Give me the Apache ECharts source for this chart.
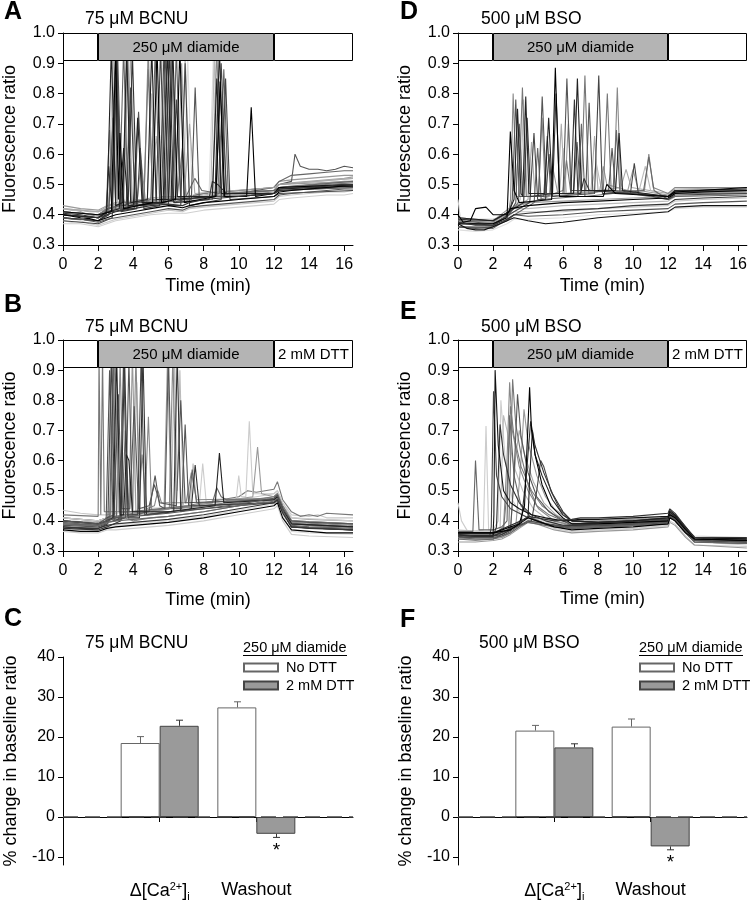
<!DOCTYPE html>
<html><head><meta charset="utf-8">
<script src="https://cdn.jsdelivr.net/npm/echarts@6/dist/echarts.min.js"></script>
<style>html,body{margin:0;padding:0;background:#fff}#c{width:750px;height:902px}</style>
</head><body><div id="c"></div>
<script>
const FONT = 'Liberation Sans, Arial, sans-serif';
// ---------- axes / structure values ----------
const timeTicks = [0,2,4,6,8,10,12,14,16];
const pctTicks = [-10,0,10,20,30,40];
const timeEnd = 16.5, diamideStart = 2, diamideEnd = 12;
const boxTop = 1.0, boxBottom = 0.91;
const boxLabelsNoDTT = ['', '250 μM diamide', ''];
const boxLabelsDTT = ['', '250 μM diamide', '2 mM DTT'];

// ---------- Panel A: 75 uM BCNU, diamide ----------
const A_b1 = [[0,0.40],[0.5,0.395],[1,0.39],[1.5,0.387],[2,0.38],[2.5,0.39],[3,0.40],[3.5,0.405],[4,0.41],[5,0.42],[6,0.43],[6.8,0.423],[7.2,0.43],[8,0.44],[9,0.445],[10,0.45],[11,0.455],[12,0.46],[12.3,0.475],[13,0.48],[14,0.485],[15,0.49],[16,0.495],[16.5,0.495]];
const A_b2 = [[0,0.41],[0.5,0.405],[1,0.41],[1.5,0.40],[2,0.395],[2.5,0.41],[3,0.42],[4,0.43],[5,0.44],[6,0.445],[6.8,0.44],[7.2,0.45],[8,0.455],[9,0.46],[10,0.465],[11,0.47],[12,0.475],[12.3,0.49],[13,0.495],[14,0.50],[15,0.505],[16,0.51],[16.5,0.51]];
const A_b3 = [[0,0.38],[0.5,0.375],[1,0.38],[1.5,0.37],[2,0.365],[2.5,0.375],[3,0.385],[4,0.395],[5,0.405],[6,0.415],[6.8,0.41],[7.2,0.42],[8,0.425],[9,0.43],[10,0.435],[11,0.44],[12,0.445],[12.3,0.46],[13,0.465],[14,0.47],[15,0.475],[16,0.475],[16.5,0.48]];
const A_b4 = [[0,0.39],[0.5,0.385],[1,0.385],[1.5,0.38],[2,0.375],[2.5,0.385],[3,0.39],[4,0.40],[5,0.41],[6,0.42],[6.8,0.415],[7.2,0.425],[8,0.43],[9,0.435],[10,0.44],[11,0.445],[12,0.45],[12.3,0.465],[13,0.47],[14,0.475],[15,0.48],[16,0.485],[16.5,0.485]];
const A_b5 = [[0,0.42],[0.5,0.415],[1,0.415],[1.5,0.41],[2,0.41],[2.5,0.42],[3,0.43],[4,0.44],[5,0.45],[6,0.455],[6.8,0.45],[7.2,0.46],[8,0.465],[9,0.47],[10,0.475],[11,0.48],[12,0.48],[12.3,0.50],[13,0.505],[14,0.51],[15,0.515],[16,0.52],[16.5,0.525]];
const A_b6 = [[0,0.405],[1,0.40],[2,0.39],[2.5,0.40],[3,0.41],[4,0.42],[5,0.43],[6,0.435],[6.8,0.43],[7.2,0.44],[8,0.45],[9,0.455],[10,0.46],[11,0.465],[12,0.47],[12.3,0.485],[13,0.49],[14,0.49],[15,0.495],[16,0.50],[16.5,0.50]];
const A_b7 = [[0,0.37],[1,0.37],[2,0.36],[2.5,0.37],[3,0.38],[4,0.39],[5,0.40],[6,0.405],[7,0.405],[8,0.415],[9,0.42],[10,0.425],[11,0.43],[12,0.435],[12.3,0.45],[13,0.455],[14,0.46],[15,0.465],[16,0.465],[16.5,0.47]];
const A_b8 = [[0,0.43],[1,0.42],[2,0.415],[2.5,0.43],[3,0.44],[4,0.445],[5,0.455],[6,0.46],[7,0.455],[8,0.47],[9,0.475],[10,0.48],[11,0.485],[12,0.49],[12.3,0.51],[13,0.515],[14,0.52],[15,0.525],[16,0.53],[16.5,0.53]];
const A_o1 = [[0,0.40],[2,0.39],[2.5,0.41],[4,0.43],[6,0.44],[8,0.46],[10,0.47],[11,0.48],[12,0.49],[12.3,0.50],[13,0.51],[13.2,0.60],[13.5,0.56],[14,0.55],[14.5,0.55],[15,0.545],[15.5,0.55],[16,0.56],[16.5,0.555]];
const A_o2 = [[0,0.41],[2,0.40],[2.5,0.42],[4,0.44],[6,0.45],[8,0.47],[10,0.48],[11,0.485],[12,0.49],[12.3,0.51],[13,0.53],[14,0.535],[15,0.54],[16,0.545],[16.5,0.545]];
const A_s1 = [[0,0.40],[2,0.39],[2.5,0.41],[2.75,0.95],[3.0,0.43],[3.4,0.44],[3.62,0.95],[3.85,0.44],[4.8,0.45],[5.05,0.95],[5.3,0.45],[6.0,0.45],[6.25,0.95],[6.5,0.46],[8.65,0.46],[8.9,0.95],[9.15,0.46],[10,0.46],[12,0.47],[12.3,0.485],[16.5,0.50]];
const A_s2 = [[0,0.39],[2,0.38],[2.6,0.40],[2.85,0.72],[3.0,0.42],[3.1,0.95],[3.35,0.42],[4.05,0.42],[4.3,0.74],[4.55,0.43],[5.6,0.44],[5.85,0.95],[6.1,0.45],[7.3,0.45],[7.52,0.82],[7.75,0.46],[10,0.46],[12,0.47],[12.3,0.48],[16.5,0.49]];
const A_s3 = [[0,0.41],[2,0.40],[2.75,0.41],[3.0,0.95],[3.15,0.45],[3.24,0.67],[3.45,0.42],[5.1,0.44],[5.35,0.95],[5.6,0.44],[6.4,0.45],[6.65,0.95],[6.9,0.44],[8.7,0.46],[8.94,0.84],[9.2,0.46],[10.45,0.46],[10.71,0.755],[10.95,0.46],[12,0.47],[12.3,0.49],[16.5,0.50]];
const A_s4 = [[0,0.40],[2,0.39],[2.45,0.41],[2.65,0.68],[2.85,0.42],[3.4,0.42],[3.65,0.95],[3.9,0.43],[4.6,0.43],[4.85,0.95],[5.1,0.44],[5.9,0.44],[6.15,0.95],[6.4,0.44],[8.5,0.45],[8.75,0.95],[9.0,0.46],[12,0.47],[12.3,0.48],[16.5,0.49]];
const A_s5 = [[0,0.38],[2,0.37],[2.8,0.39],[3.05,0.88],[3.3,0.41],[4.2,0.42],[4.4,0.62],[4.6,0.42],[5.5,0.43],[5.75,0.95],[6.0,0.43],[6.7,0.43],[6.95,0.90],[7.2,0.43],[9.0,0.45],[9.25,0.85],[9.5,0.45],[12,0.46],[12.3,0.47],[16.5,0.48]];
const A_s6 = [[0,0.42],[2,0.41],[2.6,0.43],[2.85,0.95],[3.1,0.44],[4.8,0.45],[5.05,0.80],[5.3,0.45],[6.7,0.45],[6.95,0.93],[7.2,0.45],[8.4,0.46],[8.62,0.93],[8.85,0.46],[12,0.48],[12.3,0.50],[16.5,0.52]];
const A_s7 = [[0,0.40],[2,0.39],[2.6,0.42],[3.2,0.43],[3.45,0.95],[3.7,0.43],[5.0,0.45],[5.25,0.95],[5.5,0.45],[6.2,0.45],[6.45,0.95],[6.7,0.45],[7.0,0.46],[7.5,0.52],[7.9,0.48],[8.9,0.47],[9.15,0.88],[9.4,0.47],[12,0.48],[12.3,0.49],[16.5,0.51]];
const A_s8 = [[0,0.39],[2,0.38],[2.45,0.40],[2.6,0.56],[2.8,0.41],[3.7,0.42],[3.95,0.93],[4.2,0.43],[5.8,0.44],[6.05,0.95],[6.3,0.44],[8.3,0.45],[8.5,0.51],[8.8,0.50],[9.3,0.47],[12,0.47],[12.3,0.48],[16.5,0.495]];
const A_s9 = [[0,0.41],[2,0.40],[2.6,0.42],[3.45,0.43],[3.7,0.92],[3.95,0.43],[4.2,0.43],[4.45,0.58],[4.7,0.44],[6.5,0.45],[6.75,0.90],[7.0,0.45],[12,0.48],[12.3,0.50],[16.5,0.51]];
const A_s10 = [[0,0.40],[2,0.39],[2.6,0.41],[5.4,0.44],[5.65,0.95],[5.9,0.44],[6.85,0.44],[7.1,0.92],[7.35,0.45],[8.3,0.45],[8.55,0.91],[8.8,0.46],[12,0.47],[12.3,0.49],[16.5,0.50]];
const A_s11 = [[0,0.39],[2,0.38],[2.6,0.40],[2.8,0.42],[3.05,0.95],[3.3,0.43],[3.6,0.43],[3.85,0.82],[4.1,0.43],[5.3,0.44],[5.55,0.95],[5.8,0.45],[6.2,0.45],[6.45,0.78],[6.7,0.45],[8.7,0.46],[9.0,0.90],[9.3,0.47],[12,0.47],[12.3,0.49],[16.5,0.50]];
const A_s12 = [[0,0.41],[2,0.40],[2.6,0.42],[2.75,0.60],[3.0,0.95],[3.25,0.50],[3.5,0.44],[4.6,0.44],[4.85,0.88],[5.1,0.45],[5.9,0.45],[6.2,0.95],[6.5,0.46],[6.8,0.62],[7.0,0.46],[8.8,0.46],[9.05,0.76],[9.3,0.47],[12,0.48],[12.3,0.49],[16.5,0.505]];
const A_s13 = [[0,0.40],[2,0.39],[2.6,0.41],[3.2,0.42],[3.45,0.62],[3.7,0.43],[4.0,0.43],[4.25,0.72],[4.5,0.44],[5.7,0.44],[5.95,0.95],[6.2,0.45],[8.5,0.46],[8.75,0.85],[9.0,0.47],[12,0.47],[12.3,0.485],[16.5,0.495]];
const A_s14 = [[0,0.42],[2,0.41],[2.6,0.43],[3.6,0.44],[3.85,0.95],[4.1,0.45],[5.0,0.45],[5.3,0.66],[5.6,0.46],[6.9,0.46],[7.2,0.70],[7.5,0.47],[12,0.49],[12.3,0.50],[16.5,0.52]];
const tracesA = [A_b3,A_b7,A_b5,A_b2,A_b8,A_o1,A_o2,A_s10,A_s6,A_s14,A_s9,A_s4,A_s12,A_s7,A_s2,A_s5,A_s11,A_s8,A_s13,A_s1,A_s3,A_b4,A_b6,A_b1];
const colorsA = ['#c8c8c8','#d0d0d0','#a0a0a0','#888','#999','#555','#666','#ddd','#bbb','#aaa','#999','#888','#777','#666','#555','#444','#444','#333','#222','#222','#000','#555','#333','#000'];

// ---------- Panel B: 75 uM BCNU, diamide then DTT ----------
const B_b1 = [[0,0.37],[1,0.365],[2,0.365],[2.5,0.375],[3,0.38],[4,0.385],[5,0.39],[6,0.395],[8,0.41],[10,0.43],[12,0.45],[12.2,0.46],[12.5,0.41],[13,0.37],[14,0.365],[15,0.36],[16.5,0.36]];
const B_b2 = [[0,0.39],[1,0.385],[2,0.385],[2.5,0.395],[3,0.40],[3.5,0.41],[4,0.40],[5,0.41],[6,0.415],[8,0.43],[10,0.45],[12,0.47],[12.2,0.48],[12.5,0.43],[13,0.39],[14,0.385],[15,0.38],[16.5,0.38]];
const B_b3 = [[0,0.435],[1,0.425],[2,0.42],[2.5,0.42],[3,0.425],[4,0.43],[6,0.44],[8,0.455],[10,0.47],[12,0.49],[12.2,0.50],[12.5,0.46],[13,0.42],[14,0.415],[14.5,0.42],[15,0.41],[16.5,0.41]];
const B_b4 = [[0,0.40],[1,0.395],[2,0.39],[2.5,0.40],[3,0.41],[4,0.415],[6,0.425],[8,0.44],[10,0.455],[12,0.475],[12.2,0.485],[12.5,0.44],[13,0.40],[14,0.395],[16.5,0.39]];
const B_b5 = [[0,0.38],[1,0.375],[2,0.375],[2.5,0.385],[3,0.39],[4,0.395],[6,0.405],[8,0.42],[10,0.44],[12,0.46],[12.2,0.47],[12.5,0.425],[13,0.38],[14,0.375],[16.5,0.37]];
const B_b6 = [[0,0.41],[1,0.405],[2,0.40],[2.5,0.41],[3,0.415],[4,0.42],[6,0.43],[8,0.445],[10,0.46],[12,0.48],[12.2,0.49],[12.5,0.45],[13,0.41],[14,0.405],[16.5,0.40]];
const B_b7 = [[0,0.365],[1,0.36],[2,0.36],[2.5,0.37],[3,0.37],[4,0.375],[6,0.385],[8,0.40],[10,0.42],[12,0.44],[12.2,0.45],[12.5,0.40],[13,0.355],[14,0.35],[16.5,0.345]];
const B_b8 = [[0,0.395],[1,0.39],[2,0.385],[2.5,0.395],[3,0.40],[4,0.405],[6,0.415],[8,0.43],[10,0.45],[12,0.465],[12.2,0.475],[12.5,0.43],[13,0.385],[14,0.38],[16.5,0.375]];
const B_b9 = [[0,0.375],[1,0.37],[2,0.37],[2.5,0.38],[3,0.385],[4,0.39],[6,0.40],[8,0.415],[10,0.435],[12,0.455],[12.2,0.465],[12.5,0.42],[13,0.365],[14,0.36],[16.5,0.355]];
const B_b10 = [[0,0.41],[2,0.40],[2.5,0.41],[4,0.425],[6,0.44],[8,0.46],[9,0.47],[10,0.48],[10.5,0.50],[11,0.495],[12,0.505],[12.2,0.53],[12.5,0.47],[13,0.43],[13.5,0.415],[14,0.42],[14.5,0.415],[15,0.425],[16.5,0.42]];
const B_s1 = [[0,0.42],[2,0.415],[2.05,0.95],[2.15,0.42],[2.25,0.95],[2.35,0.43],[4,0.43],[6,0.44],[8,0.45],[12,0.48],[12.2,0.49],[12.5,0.45],[13,0.40],[16.5,0.39]];
const B_s2 = [[0,0.38],[2,0.375],[2.55,0.39],[2.75,0.95],[2.95,0.40],[3.25,0.41],[3.45,0.95],[3.65,0.42],[4.25,0.42],[4.45,0.95],[4.65,0.42],[6,0.43],[12,0.46],[12.2,0.47],[12.5,0.43],[13,0.38],[16.5,0.37]];
const B_s3 = [[0,0.40],[2,0.39],[2.5,0.40],[2.85,0.41],[3.05,0.95],[3.25,0.42],[3.45,0.42],[3.6,0.62],[3.75,0.60],[3.95,0.43],[6,0.43],[8.65,0.45],[8.9,0.625],[9.15,0.46],[12,0.47],[12.2,0.48],[12.5,0.44],[13,0.39],[16.5,0.38]];
const B_s4 = [[0,0.39],[2,0.385],[2.5,0.40],[3.05,0.41],[3.25,0.93],[3.45,0.42],[3.95,0.42],[4.15,0.95],[4.35,0.42],[4.65,0.43],[4.86,0.745],[5.05,0.43],[6.05,0.44],[6.25,0.95],[6.45,0.44],[12,0.47],[12.2,0.48],[12.5,0.44],[13,0.40],[16.5,0.39]];
const B_s5 = [[0,0.385],[2,0.38],[2.45,0.39],[2.65,0.90],[2.85,0.40],[3.55,0.41],[3.75,0.93],[3.95,0.42],[4.9,0.43],[5.24,0.55],[5.5,0.45],[5.8,0.44],[6.0,0.95],[6.2,0.44],[6.75,0.44],[6.95,0.72],[7.15,0.45],[12,0.46],[12.2,0.47],[12.5,0.43],[13,0.38],[16.5,0.37]];
const B_s6 = [[0,0.41],[2,0.40],[2.5,0.41],[2.75,0.42],[2.95,0.88],[3.15,0.43],[4.0,0.43],[4.2,0.86],[4.4,0.44],[7.75,0.45],[7.95,0.59],[8.15,0.46],[9.85,0.47],[10.0,0.55],[10.15,0.48],[10.4,0.48],[10.6,0.73],[10.8,0.49],[12,0.49],[12.2,0.50],[12.5,0.46],[13,0.41],[16.5,0.40]];
const B_s7 = [[0,0.375],[2,0.37],[2.5,0.38],[3.3,0.40],[3.5,0.95],[3.7,0.41],[4.35,0.41],[4.55,0.95],[4.75,0.42],[6.3,0.43],[6.5,0.95],[6.7,0.43],[7.3,0.44],[7.52,0.585],[7.75,0.45],[12,0.46],[12.2,0.47],[12.5,0.43],[13,0.38],[16.5,0.37]];
const B_s8 = [[0,0.40],[2,0.395],[2.5,0.405],[3.75,0.42],[3.95,0.95],[4.15,0.43],[5.75,0.44],[5.95,0.95],[6.15,0.44],[10.8,0.48],[11.07,0.645],[11.3,0.49],[12,0.48],[12.2,0.49],[12.5,0.45],[13,0.40],[16.5,0.39]];
const B_s9 = [[0,0.39],[2,0.385],[2.5,0.395],[2.65,0.40],[2.85,0.95],[3.05,0.41],[3.35,0.42],[3.55,0.70],[3.75,0.43],[7.15,0.45],[7.35,0.57],[7.6,0.46],[8.5,0.46],[8.75,0.51],[9.0,0.48],[9.3,0.47],[12,0.47],[12.2,0.48],[12.5,0.44],[13,0.39],[16.5,0.38]];
const B_s10 = [[0,0.395],[2,0.39],[2.5,0.40],[6.15,0.44],[6.35,0.95],[6.5,0.50],[6.65,0.90],[6.85,0.45],[7.25,0.45],[7.4,0.59],[7.6,0.46],[12,0.47],[12.2,0.48],[12.5,0.44],[13,0.39],[16.5,0.38]];
const B_s11 = [[0,0.40],[2,0.39],[2.5,0.41],[2.9,0.42],[3.15,0.82],[3.35,0.44],[3.8,0.44],[4.05,0.78],[4.3,0.44],[4.9,0.45],[5.2,0.52],[5.5,0.46],[6.45,0.45],[6.7,0.80],[6.95,0.46],[12,0.47],[12.2,0.48],[12.5,0.44],[13,0.39],[16.5,0.38]];
const B_s12 = [[0,0.39],[2,0.385],[2.5,0.40],[2.7,0.42],[2.95,0.95],[3.2,0.43],[4.3,0.43],[4.5,0.62],[4.75,0.44],[5.2,0.45],[5.4,0.50],[5.6,0.46],[7.0,0.46],[7.3,0.56],[7.6,0.47],[12,0.475],[12.2,0.485],[12.5,0.445],[13,0.395],[16.5,0.385]];
const tracesB = [B_b3,B_b9,B_b7,B_b6,B_b2,B_b10,B_s6,B_s10,B_s12,B_s8,B_s1,B_s4,B_s9,B_s11,B_s5,B_s7,B_s2,B_s3,B_b8,B_b4,B_b5,B_b1];
const colorsB = ['#c8c8c8','#ddd','#ccc','#999','#888','#777','#ccc','#bbb','#888','#999','#777','#888','#666','#555','#555','#333','#444','#222','#666','#555','#333','#000'];

// ---------- Panel D: 500 uM BSO, diamide ----------
const D_b1 = [[0,0.40],[0.3,0.375],[0.7,0.38],[1.0,0.42],[1.6,0.425],[2.0,0.40],[2.8,0.40],[3.0,0.42],[4,0.43],[6,0.44],[8,0.445],[10,0.45],[12,0.455],[12.4,0.47],[14,0.475],[16.5,0.48]];
const D_b2 = [[0,0.37],[0.5,0.355],[1,0.35],[1.5,0.35],[2,0.36],[2.8,0.38],[3.2,0.39],[4,0.38],[5,0.37],[6,0.375],[8,0.39],[10,0.40],[12,0.41],[12.4,0.425],[14,0.43],[16.5,0.43]];
const D_b3 = [[0,0.45],[0.15,0.38],[1,0.37],[2,0.37],[2.8,0.39],[3.2,0.41],[4,0.41],[6,0.41],[8,0.42],[10,0.425],[12,0.43],[12.4,0.445],[14,0.45],[16.5,0.455]];
const D_b4 = [[0,0.36],[1,0.355],[2,0.36],[2.8,0.38],[3.2,0.40],[4,0.395],[6,0.40],[8,0.41],[10,0.415],[12,0.42],[12.4,0.435],[14,0.44],[16.5,0.445]];
const D_b5 = [[0,0.39],[1,0.385],[2,0.385],[2.8,0.40],[3.2,0.42],[4,0.42],[6,0.43],[8,0.435],[10,0.44],[12,0.445],[12.4,0.46],[14,0.465],[16.5,0.47]];
const D_b6 = [[0,0.375],[1,0.365],[2,0.365],[2.8,0.385],[3.2,0.40],[4,0.405],[6,0.415],[8,0.42],[10,0.43],[12,0.435],[12.4,0.45],[14,0.455],[16.5,0.46]];
const D_b7 = [[0,0.385],[1,0.38],[2,0.38],[2.8,0.40],[3.2,0.43],[4,0.44],[6,0.445],[8,0.45],[10,0.455],[12,0.46],[12.4,0.475],[14,0.48],[16.5,0.485]];
const D_b8 = [[0,0.35],[1,0.345],[2,0.35],[2.8,0.37],[3.2,0.385],[4,0.385],[6,0.39],[8,0.40],[10,0.405],[12,0.41],[12.4,0.42],[14,0.425],[16.5,0.425]];
const D_s1 = [[0,0.37],[2,0.37],[2.8,0.39],[2.99,0.675],[3.2,0.48],[3.5,0.44],[5.35,0.45],[5.56,0.885],[5.8,0.46],[8.3,0.46],[8.5,0.50],[9.0,0.47],[12,0.46],[12.4,0.475],[16.5,0.49]];
const D_s2 = [[0,0.38],[2,0.37],[2.9,0.40],[3.1,0.45],[3.3,0.78],[3.5,0.46],[4.6,0.46],[4.81,0.79],[5.05,0.47],[6.0,0.47],[6.22,0.85],[6.45,0.48],[7.3,0.48],[7.49,0.77],[7.7,0.48],[12,0.46],[12.4,0.48],[16.5,0.48]];
const D_s3 = [[0,0.39],[2,0.38],[2.9,0.41],[3.2,0.45],[3.4,0.75],[3.6,0.47],[3.7,0.46],[3.87,0.79],[4.05,0.47],[4.95,0.47],[5.18,0.72],[5.4,0.47],[6.6,0.47],[6.82,0.85],[7.05,0.48],[9.0,0.48],[9.2,0.67],[9.4,0.48],[12,0.46],[12.4,0.48],[16.5,0.485]];
const D_s4 = [[0,0.36],[2,0.36],[2.9,0.40],[3.45,0.44],[3.68,0.82],[3.9,0.46],[5,0.46],[6.0,0.48],[6.2,0.58],[6.45,0.47],[7.03,0.47],[7.25,0.86],[7.47,0.47],[8.3,0.48],[8.53,0.80],[8.75,0.48],[12,0.45],[12.4,0.47],[16.5,0.47]];
const D_s5 = [[0,0.375],[2,0.365],[2.9,0.40],[4.1,0.44],[4.34,0.67],[4.55,0.45],[5.0,0.45],[5.2,0.60],[5.4,0.46],[7.8,0.47],[8.04,0.86],[8.25,0.47],[9.85,0.47],[10.07,0.57],[10.3,0.47],[12,0.45],[12.4,0.465],[16.5,0.47]];
const D_s6 = [[0,0.38],[2,0.375],[2.9,0.41],[3.0,0.45],[3.15,0.80],[3.35,0.46],[4.6,0.46],[4.8,0.72],[5.0,0.46],[8.9,0.48],[9.1,0.82],[9.3,0.48],[10.65,0.48],[10.9,0.60],[11.15,0.49],[12,0.47],[12.4,0.49],[16.5,0.49]];
const D_s7 = [[0,0.37],[2,0.37],[2.9,0.40],[3.55,0.45],[3.75,0.78],[3.95,0.46],[5.8,0.47],[6.0,0.62],[6.2,0.47],[7.6,0.48],[7.9,0.57],[8.2,0.48],[10.3,0.47],[10.7,0.56],[11.0,0.48],[12,0.46],[12.4,0.48],[16.5,0.48]];
const D_s8 = [[0,0.385],[2,0.38],[2.9,0.41],[3.75,0.44],[3.95,0.72],[4.15,0.46],[5.4,0.47],[5.6,0.80],[5.8,0.47],[6.45,0.47],[6.65,0.78],[6.85,0.47],[7.0,0.47],[7.2,0.52],[7.5,0.48],[12,0.46],[12.4,0.475],[16.5,0.475]];
const D_s9 = [[0,0.36],[2,0.355],[2.95,0.39],[4.35,0.44],[4.55,0.62],[4.75,0.45],[6.85,0.46],[7.05,0.70],[7.25,0.46],[8.85,0.47],[9.05,0.68],[9.25,0.47],[10.6,0.48],[10.9,0.59],[11.2,0.48],[12,0.45],[12.4,0.46],[16.5,0.465]];
const D_s10 = [[0,0.39],[2,0.38],[2.9,0.42],[5.2,0.46],[5.4,0.56],[5.7,0.47],[6.1,0.47],[6.3,0.70],[6.5,0.47],[8.1,0.48],[8.3,0.56],[8.5,0.50],[9.7,0.48],[10.0,0.55],[10.3,0.48],[12,0.465],[12.4,0.48],[16.5,0.48]];
const D_s11 = [[0,0.37],[2,0.365],[2.9,0.40],[3.3,0.44],[3.5,0.70],[3.7,0.46],[4.9,0.46],[5.1,0.66],[5.3,0.47],[6.6,0.47],[6.8,0.64],[7.0,0.48],[8.6,0.48],[8.8,0.62],[9.0,0.48],[12,0.46],[12.4,0.475],[16.5,0.48]];
const D_s12 = [[0,0.38],[2,0.375],[2.9,0.41],[4.0,0.45],[4.2,0.64],[4.4,0.46],[5.7,0.47],[5.9,0.70],[6.1,0.47],[7.6,0.48],[7.8,0.66],[8.0,0.48],[9.3,0.49],[9.6,0.55],[9.9,0.49],[12,0.47],[12.4,0.485],[16.5,0.49]];
const tracesD = [D_b8,D_b5,D_b3,D_b7,D_s12,D_s7,D_s10,D_s6,D_s4,D_s9,D_s11,D_s2,D_s5,D_s8,D_s3,D_s1,D_b4,D_b6,D_b2,D_b1];
const colorsD = ['#ddd','#bbb','#c8c8c8','#999','#aaa','#bbb','#999','#888','#777','#666','#555','#555','#444','#333','#222','#000','#555','#333','#111','#000'];

// ---------- Panel E: 500 uM BSO, diamide then DTT ----------
const E_b1 = [[0,0.36],[1,0.36],[2,0.36],[2.5,0.365],[3,0.37],[3.5,0.39],[4,0.41],[4.5,0.40],[5.5,0.38],[6.5,0.37],[8,0.375],[10,0.38],[12,0.39],[12.1,0.41],[12.4,0.40],[13,0.36],[13.5,0.34],[16.5,0.335]];
const E_b2 = [[0,0.34],[1,0.335],[2,0.34],[2.5,0.345],[3,0.36],[3.5,0.38],[4,0.40],[4.5,0.395],[5.5,0.385],[6.5,0.38],[8,0.385],[10,0.39],[12,0.40],[12.1,0.42],[12.4,0.41],[13,0.37],[13.5,0.33],[16.5,0.325]];
const E_b3 = [[0,0.46],[0.2,0.40],[0.5,0.37],[1,0.36],[2,0.355],[2.5,0.36],[3,0.37],[3.5,0.39],[4,0.405],[4.5,0.40],[5.5,0.375],[6.5,0.365],[8,0.37],[10,0.375],[12,0.385],[12.1,0.40],[12.4,0.39],[13,0.35],[13.5,0.32],[16.5,0.315]];
const E_b4 = [[0,0.35],[1,0.345],[2,0.345],[2.5,0.35],[3,0.365],[3.5,0.385],[4,0.40],[4.5,0.395],[5.5,0.385],[6.5,0.38],[8,0.385],[10,0.39],[12,0.395],[12.1,0.415],[12.4,0.405],[13,0.365],[13.5,0.335],[16.5,0.33]];
const E_b5 = [[0,0.355],[1,0.35],[2,0.35],[2.5,0.355],[3,0.37],[3.5,0.395],[4,0.415],[4.5,0.41],[5.5,0.40],[6.5,0.405],[7,0.41],[8,0.41],[10,0.415],[12,0.425],[12.1,0.44],[12.4,0.425],[13,0.38],[13.5,0.345],[16.5,0.345]];
const E_b6 = [[0,0.33],[1,0.33],[2,0.335],[2.5,0.34],[3,0.355],[3.5,0.375],[4,0.395],[4.5,0.39],[5.5,0.37],[6.5,0.36],[8,0.365],[10,0.37],[12,0.38],[12.1,0.395],[12.4,0.385],[13,0.345],[13.5,0.32],[16.5,0.31]];
const E_b7 = [[0,0.345],[1,0.34],[2,0.34],[2.5,0.35],[3,0.36],[3.5,0.38],[4,0.395],[4.5,0.39],[5.5,0.38],[6.5,0.375],[8,0.38],[10,0.385],[12,0.39],[12.1,0.41],[12.4,0.40],[13,0.36],[13.5,0.33],[16.5,0.325]];
const E_b8 = [[0,0.37],[1,0.365],[2,0.365],[2.5,0.37],[3,0.38],[3.5,0.40],[4,0.41],[4.5,0.405],[5.5,0.395],[6.5,0.395],[8,0.40],[10,0.405],[12,0.41],[12.1,0.43],[12.4,0.42],[13,0.375],[13.5,0.35],[16.5,0.345]];
const E_s1 = [[0,0.365],[0.85,0.365],[1.0,0.60],[1.2,0.37],[2,0.37],[2.5,0.38],[2.8,0.40],[2.95,0.75],[3.2,0.55],[3.6,0.45],[4.2,0.41],[5,0.39],[6.5,0.38],[8,0.385],[10,0.39],[12,0.40],[12.1,0.42],[12.4,0.41],[13,0.37],[13.5,0.34],[16.5,0.335]];
const E_s2 = [[0,0.36],[1.45,0.37],[1.6,0.715],[1.75,0.37],[2,0.37],[2.3,0.40],[2.45,0.80],[2.7,0.60],[3.1,0.47],[3.6,0.42],[4.5,0.40],[6.5,0.38],[12,0.39],[12.1,0.41],[12.4,0.40],[13,0.36],[13.5,0.33],[16.5,0.32]];
const E_s3 = [[0,0.35],[2,0.35],[2.05,0.42],[2.12,0.90],[2.3,0.65],[2.6,0.50],[3.0,0.46],[3.5,0.44],[4.2,0.42],[5,0.41],[6,0.40],[7,0.405],[8,0.405],[10,0.41],[12,0.415],[12.1,0.435],[12.4,0.42],[13,0.38],[13.5,0.345],[16.5,0.34]];
const E_s4 = [[0,0.345],[1.8,0.345],[1.9,0.38],[2.03,0.83],[2.2,0.55],[2.5,0.48],[3.0,0.44],[4,0.41],[5,0.39],[6.5,0.375],[8,0.38],[10,0.385],[12,0.395],[12.1,0.415],[12.4,0.40],[13,0.36],[13.5,0.33],[16.5,0.325]];
const E_s5 = [[0,0.35],[2,0.35],[2.9,0.37],[3.12,0.87],[3.3,0.72],[3.6,0.62],[4.0,0.52],[4.5,0.45],[5.2,0.42],[6,0.40],[6.5,0.39],[8,0.395],[10,0.40],[12,0.405],[12.1,0.425],[12.4,0.41],[13,0.37],[13.5,0.34],[16.5,0.335]];
const E_s6 = [[0,0.36],[2,0.36],[3.5,0.39],[3.8,0.45],[4.09,0.843],[4.2,0.70],[4.4,0.62],[4.8,0.52],[5.3,0.45],[6,0.41],[6.5,0.39],[8,0.39],[10,0.395],[12,0.40],[12.1,0.42],[12.4,0.41],[13,0.37],[13.5,0.34],[16.5,0.335]];
const E_s7 = [[0,0.34],[2,0.34],[3.0,0.37],[3.2,0.55],[3.4,0.82],[3.6,0.68],[4.0,0.56],[4.5,0.48],[5.2,0.43],[6,0.40],[6.5,0.385],[8,0.385],[10,0.39],[12,0.40],[12.1,0.42],[12.4,0.405],[13,0.365],[13.5,0.335],[16.5,0.33]];
const E_s8 = [[0,0.355],[2,0.355],[3.3,0.38],[3.6,0.60],[3.77,0.77],[4.0,0.66],[4.5,0.55],[5.0,0.48],[5.5,0.44],[6.2,0.41],[6.5,0.40],[8,0.40],[10,0.405],[12,0.41],[12.1,0.43],[12.4,0.415],[13,0.375],[13.5,0.345],[16.5,0.34]];
const E_s9 = [[0,0.35],[2,0.35],[4.2,0.40],[4.5,0.50],[4.72,0.60],[4.9,0.58],[5.3,0.50],[5.8,0.44],[6.3,0.41],[6.5,0.40],[8,0.395],[10,0.40],[12,0.405],[12.1,0.425],[12.4,0.41],[13,0.37],[13.5,0.34],[16.5,0.335]];
const E_s10 = [[0,0.345],[2,0.345],[2.4,0.37],[2.6,0.75],[2.8,0.70],[3.2,0.58],[3.7,0.50],[4.3,0.44],[5,0.41],[6,0.39],[6.5,0.38],[8,0.38],[10,0.385],[12,0.39],[12.1,0.41],[12.4,0.40],[13,0.36],[13.5,0.33],[16.5,0.325]];
const E_s11 = [[0,0.36],[2,0.36],[4.0,0.41],[4.1,0.55],[4.25,0.70],[4.4,0.62],[4.8,0.55],[5.4,0.47],[6,0.42],[6.5,0.40],[8,0.395],[10,0.40],[12,0.41],[12.1,0.43],[12.4,0.415],[13,0.375],[13.5,0.345],[16.5,0.34]];
const E_s12 = [[0,0.35],[2,0.35],[2.6,0.38],[2.8,0.60],[2.95,0.86],[3.1,0.70],[3.5,0.58],[4,0.50],[4.6,0.44],[5.5,0.40],[6.5,0.385],[8,0.39],[10,0.395],[12,0.40],[12.1,0.42],[12.4,0.405],[13,0.365],[13.5,0.335],[16.5,0.33]];
const E_s13 = [[0,0.35],[2,0.35],[2.2,0.38],[2.4,0.72],[2.6,0.62],[3.0,0.52],[3.5,0.46],[4.2,0.42],[5,0.40],[6,0.385],[8,0.385],[10,0.39],[12,0.40],[12.1,0.42],[12.4,0.405],[13,0.365],[13.5,0.335],[16.5,0.33]];
const E_s14 = [[0,0.355],[2,0.355],[2.6,0.37],[2.8,0.50],[3.0,0.78],[3.2,0.68],[3.6,0.58],[4.2,0.50],[4.8,0.45],[5.5,0.42],[6.5,0.39],[8,0.39],[10,0.395],[12,0.405],[12.1,0.425],[12.4,0.41],[13,0.37],[13.5,0.34],[16.5,0.335]];
const E_s15 = [[0,0.345],[2,0.345],[3.0,0.37],[3.3,0.62],[3.5,0.70],[3.8,0.62],[4.3,0.53],[4.9,0.46],[5.6,0.42],[6.5,0.39],[8,0.39],[10,0.395],[12,0.40],[12.1,0.42],[12.4,0.405],[13,0.365],[13.5,0.335],[16.5,0.33]];
const E_s16 = [[0,0.35],[2,0.35],[3.6,0.39],[3.9,0.55],[4.15,0.73],[4.4,0.65],[4.9,0.56],[5.4,0.49],[6.0,0.43],[6.5,0.40],[8,0.395],[10,0.40],[12,0.41],[12.1,0.43],[12.4,0.415],[13,0.375],[13.5,0.345],[16.5,0.34]];
const tracesE = [E_b3,E_b8,E_b6,E_b2,E_s2,E_s10,E_s15,E_s8,E_s12,E_s5,E_s14,E_s1,E_s7,E_s9,E_s13,E_s4,E_s16,E_s11,E_s6,E_s3,E_b7,E_b4,E_b5,E_b1];
const colorsE = ['#ccc','#ccc','#999','#888','#ccc','#bbb','#aaa','#999','#888','#777','#777','#666','#555','#444','#333','#444','#333','#222','#000','#111','#666','#555','#333','#000'];

// ---------- Panels C and F: % change in baseline ratio ----------
const barCats = ['Δ[Ca2+]i', 'Washout'];
const C_noDTT = [18.5, 27.4];
const C_noDTT_err = [1.6, 1.4];
const C_DTT = [22.8, -4.2];
const C_DTT_err = [1.4, 0.9];
const C_sig = ['', '*'];
const F_noDTT = [21.6, 22.6];
const F_noDTT_err = [1.3, 1.9];
const F_DTT = [17.4, -7.35];
const F_DTT_err = [0.9, 0.85];
const F_sig = ['', '*'];

// ---------- build ----------
const grids = [
  {left:63, top:33, width:290, height:212},   // A
  {left:63, top:340, width:290, height:211},  // B
  {left:63, top:657, width:290, height:210},  // C
  {left:458, top:33, width:291, height:212},  // D
  {left:458, top:340, width:291, height:211}, // E
  {left:458, top:657, width:291, height:210}  // F
];
const txt = {color:'#000', fontFamily:FONT};
const axisLineBlack = {show:true, lineStyle:{color:'#000', width:1}};

const xAxes = [], yAxes = [], series = [];
function lineAxes(g, nameGapX) {
  xAxes.push({gridIndex:g, type:'value', min:0, max:timeEnd, interval:2,
    axisLine:axisLineBlack, splitLine:{show:false},
    axisTick:{show:true, inside:false, length:6, customValues:timeTicks, lineStyle:{color:'#000'}},
    axisLabel:Object.assign({fontSize:16, margin:12, customValues:timeTicks}, txt),
    name:'Time (min)', nameLocation:'middle', nameGap:nameGapX,
    nameTextStyle:Object.assign({fontSize:18}, txt)});
  yAxes.push({gridIndex:g, type:'value', min:0.3, max:1.0, interval:0.1,
    axisLine:axisLineBlack, splitLine:{show:false},
    axisTick:{show:true, inside:false, length:5, lineStyle:{color:'#000'}},
    axisLabel:Object.assign({fontSize:16, margin:8, formatter:v=>v.toFixed(1)}, txt),
    name:'Fluorescence ratio', nameLocation:'middle', nameGap:44,
    nameTextStyle:Object.assign({fontSize:18}, txt)});
}
function addTraces(g, traces, colors) {
  traces.forEach((tr, i) => series.push({type:'line', xAxisIndex:g, yAxisIndex:g, data:tr,
    symbol:'none', showSymbol:false, silent:true, animation:false, z:2,
    lineStyle:{width:1.1, color:colors[i]}, itemStyle:{color:colors[i]}}));
}
function addBoxes(g, labels) {
  const boxes = [[0, diamideStart, 0], [diamideStart, diamideEnd, 1], [diamideEnd, timeEnd, 0]];
  series.push({type:'custom', xAxisIndex:g, yAxisIndex:g, data:boxes, z:10, silent:true, animation:false, clip:false,
    renderItem:(params, api) => {
      const p0 = api.coord([api.value(0), boxTop]);
      const p1 = api.coord([api.value(1), boxBottom]);
      const x0 = Math.round(p0[0]) + 0.5, y0 = Math.round(p0[1]) + 0.5;
      const x1 = Math.round(p1[0]) - 0.5, y1 = Math.round(p1[1]) + 0.5;
      return {type:'group', children:[
        {type:'rect', shape:{x:x0, y:y0, width:x1-x0, height:y1-y0},
          style:{fill: api.value(2) ? '#b4b4b4' : '#fff', stroke:'#000', lineWidth:1}},
        {type:'text', x:(x0+x1)/2, y:(y0+y1)/2 + 1,
          style:{text:labels[params.dataIndex], fill:'#000', fontSize:15, fontFamily:FONT, align:'center', verticalAlign:'middle'}}
      ]};
    }});
}
const catRich = {'Δ[Ca2+]i':'{n|Δ[Ca}{sup|2+}{n|]}{sub|i}', 'Washout':'{n|Washout}'};
function barAxes(g) {
  xAxes.push({gridIndex:g, type:'category', boundaryGap:false, data:[' ', barCats[0], barCats[1], '  '],
    axisLine:axisLineBlack, splitLine:{show:false},
    axisTick:{show:true, inside:false, length:5, interval:(i)=>i===1||i===2, lineStyle:{color:'#000'}},
    axisLabel:{interval:0, margin:16, formatter:(v)=>catRich[v] || '',
      rich:{n:{fontSize:18, color:'#000', fontFamily:FONT},
            sup:{fontSize:11, color:'#000', fontFamily:FONT, padding:[0,0,10,0]},
            sub:{fontSize:11, color:'#000', fontFamily:FONT, padding:[10,0,0,0]}}}});
  yAxes.push({gridIndex:g, type:'value', min:-12, max:40,
    axisLine:axisLineBlack, splitLine:{show:false},
    axisTick:{show:true, inside:false, length:5, customValues:pctTicks, lineStyle:{color:'#000'}},
    axisLabel:Object.assign({fontSize:16, margin:8, customValues:pctTicks}, txt),
    name:'% change in baseline ratio', nameLocation:'middle', nameGap:43,
    nameTextStyle:Object.assign({fontSize:18}, txt)});
}
const BW = 39;
function addBars(g, noDTT, noErr, dtt, dttErr, sig) {
  series.push({type:'bar', name:'No DTT', xAxisIndex:g, yAxisIndex:g, data:[null, noDTT[0], noDTT[1], null],
    barWidth:BW, barGap:'0%', animation:false, silent:true,
    itemStyle:{color:'#fff', borderColor:'#666', borderWidth:1},
    markLine:{silent:true, symbol:'none', label:{show:false}, animation:false, z:6,
      lineStyle:{color:'#444', width:1.5, type:[15,7]}, data:[{yAxis:0}]}});
  series.push({type:'bar', name:'2 mM DTT', xAxisIndex:g, yAxisIndex:g, data:[null, dtt[0], dtt[1], null],
    barWidth:BW, barGap:'0%', animation:false, silent:true,
    itemStyle:{color:'#9a9a9a', borderColor:'#444', borderWidth:1}});
  const eb = [];
  const sigs = [];
  noDTT.forEach((v,i)=>{eb.push([i+1, v, noErr[i], 0]); sigs.push('');});
  dtt.forEach((v,i)=>{eb.push([i+1, v, dttErr[i], 1]); sigs.push(sig[i]);});
  series.push({type:'custom', xAxisIndex:g, yAxisIndex:g, data:eb, z:5, silent:true, animation:false,
    renderItem:(params, api) => {
      const c = api.value(0), v = api.value(1), e = api.value(2), side = api.value(3);
      const end = v >= 0 ? v + e : v - e;
      const p0 = api.coord([c, v]), p1 = api.coord([c, end]);
      const x = Math.round(p0[0] + (side ? BW/2 : -BW/2)) + 0.5;
      const col = side ? '#333' : '#666';
      const ch = [
        {type:'line', shape:{x1:x, y1:p0[1], x2:x, y2:p1[1]}, style:{stroke:col, lineWidth:1}},
        {type:'line', shape:{x1:x-3.5, y1:p1[1], x2:x+3.5, y2:p1[1]}, style:{stroke:col, lineWidth:1}}
      ];
      const s = sigs[params.dataIndex];
      if (s) ch.push({type:'text', x:x, y:p1[1] + (v < 0 ? 13 : -13),
        style:{text:s, fill:'#000', fontSize:19, fontFamily:FONT, align:'center', verticalAlign:'middle'}});
      return {type:'group', children:ch};
    }});
}

lineAxes(0, 32); addTraces(0, tracesA, colorsA); addBoxes(0, boxLabelsNoDTT);
lineAxes(1, 40); addTraces(1, tracesB, colorsB); addBoxes(1, boxLabelsDTT);
barAxes(2); addBars(2, C_noDTT, C_noDTT_err, C_DTT, C_DTT_err, C_sig);
lineAxes(3, 32); addTraces(3, tracesD, colorsD); addBoxes(3, boxLabelsNoDTT);
lineAxes(4, 39); addTraces(4, tracesE, colorsE); addBoxes(4, boxLabelsDTT);
barAxes(5); addBars(5, F_noDTT, F_noDTT_err, F_DTT, F_DTT_err, F_sig);

function T(text, left, top, size, bold) {
  return {text, left, top, padding:0, textStyle:{fontSize:size, fontWeight:bold?'bold':'normal', color:'#000', fontFamily:FONT}};
}
const titles = [
  T('A', 4, 0, 25, true), T('75 μM BCNU', 85, 10, 17.5),
  T('D', 400, 0, 25, true), T('500 μM BSO', 481, 10, 17.5),
  T('B', 4, 293, 25, true), T('75 μM BCNU', 85, 318, 17.5),
  T('E', 400, 300, 25, true), T('500 μM BSO', 481, 318, 17.5),
  T('C', 4, 607, 25, true), T('75 μM BCNU', 85, 634, 17.5),
  T('F', 400, 608, 25, true), T('500 μM BSO', 479, 634, 17.5),
  T('250 μM diamide', 243, 640, 14.5), T('250 μM diamide', 639, 640, 14.5)
];
const legendBase = {data:['No DTT','2 mM DTT'], orient:'vertical', itemWidth:34, itemHeight:8, itemGap:3, padding:0,
  icon:'rect', selectedMode:false, textStyle:{fontSize:14.5, color:'#000', fontFamily:FONT, padding:[0,0,0,3]}};

const chart = echarts.init(document.getElementById('c'), null, {renderer:'canvas'});
chart.setOption({
  animation:false,
  backgroundColor:'#fff',
  title:titles,
  legend:[Object.assign({left:243, top:660}, legendBase), Object.assign({left:639, top:660}, legendBase)],
  grid:grids,
  xAxis:xAxes,
  yAxis:yAxes,
  series:series,
  graphic:[
    {type:'line', shape:{x1:243, y1:655.5, x2:347, y2:655.5}, style:{stroke:'#000', lineWidth:1}},
    {type:'line', shape:{x1:639, y1:655.5, x2:743, y2:655.5}, style:{stroke:'#000', lineWidth:1}}
  ]
});
</script></body></html>
